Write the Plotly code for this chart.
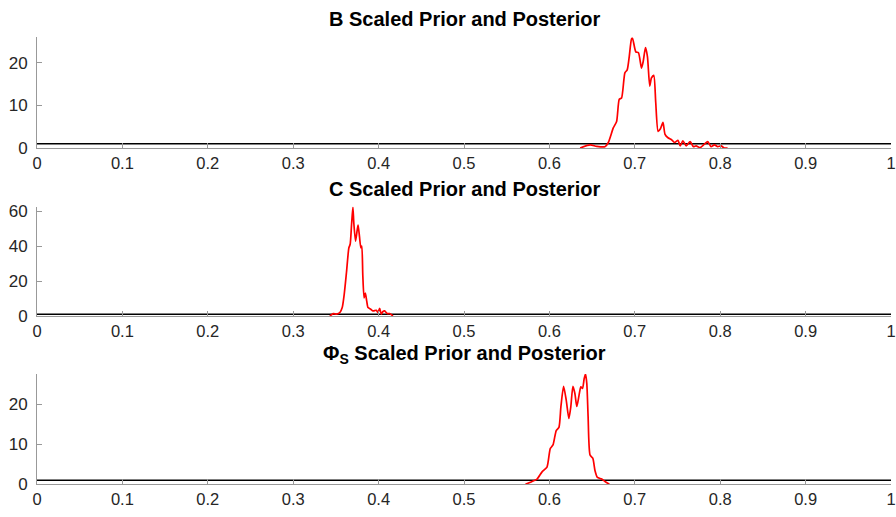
import plotly.graph_objects as go
from plotly.subplots import make_subplots

# ---- data ----
titles = ["B Scaled Prior and Posterior", "C Scaled Prior and Posterior",
          "Φ<sub>S</sub> Scaled Prior and Posterior"]

prior_x = [0.0, 1.0]
prior_y = [1.0, 1.0]

b_x = [0.636, 0.6476, 0.6554, 0.665, 0.669, 0.6748, 0.6787, 0.6818, 0.6845, 0.6884,
       0.6911, 0.6935, 0.6961, 0.6973, 0.7012, 0.7043, 0.7078, 0.7098, 0.7125, 0.7148,
       0.7175, 0.7195, 0.7222, 0.7245, 0.7273, 0.730, 0.733, 0.7354, 0.7389, 0.7427,
       0.7466, 0.7505, 0.7532, 0.7563, 0.7602, 0.7648, 0.7687, 0.7718, 0.7765, 0.7815,
       0.7854, 0.7893, 0.7932, 0.7971, 0.801, 0.8048, 0.8087]
b_y = [0.0, 0.75, 0.4, 0.3, 1.3, 4.7, 6.2, 11.4, 11.7, 17.6,
       18.3, 21.4, 25.5, 25.7, 22.5, 22.3, 18.7, 20.2, 23.5, 21.4,
       14.5, 16.4, 17.0, 10.7, 3.9, 4.5, 6.0, 3.2, 2.4, 2.0,
       1.3, 1.8, 0.5, 1.7, 0.5, 1.5, 0.3, 0.5, 0.1, 0.9,
       1.5, 0.3, 0.75, 0.3, 0.5, 0.0, 0.0]

c_x = [0.343, 0.3469, 0.3508, 0.3547, 0.3574, 0.3597, 0.3624, 0.3652, 0.3667, 0.3683,
       0.3699, 0.371, 0.373, 0.3749, 0.376, 0.3776, 0.3792, 0.3803, 0.3815, 0.383,
       0.3845, 0.3861, 0.3876, 0.3908, 0.3935, 0.3973, 0.3993, 0.4012, 0.4032, 0.4051,
       0.4071, 0.4101, 0.4129, 0.4168]
c_y = [0.0, 1.4, 1.1, 2.0, 4.8, 12.2, 25.0, 39.0, 41.0, 52.0,
       62.2, 53.0, 42.8, 49.0, 52.0, 45.5, 39.0, 40.0, 23.3, 10.3,
       13.1, 8.5, 4.8, 3.9, 2.9, 3.3, 2.0, 4.4, 1.1, 2.6,
       2.9, 1.4, 1.4, 0.0]

p_x = [0.572, 0.5797, 0.5856, 0.5914, 0.5972, 0.601, 0.6042, 0.608, 0.6112, 0.6135,
       0.6166, 0.6197, 0.6228, 0.6251, 0.6275, 0.6298, 0.6321, 0.6345, 0.6368, 0.6388,
       0.6407, 0.6423, 0.6438, 0.6453, 0.6476, 0.6508, 0.6535, 0.6562, 0.6612, 0.6651,
       0.6702]
p_y = [0.0, 0.7, 1.3, 3.1, 4.3, 8.9, 9.8, 13.4, 14.2, 19.4,
       24.4, 21.0, 16.4, 19.4, 24.4, 22.7, 19.4, 21.9, 24.3, 23.9,
       26.3, 27.5, 25.1, 17.0, 7.3, 6.5, 3.3, 1.7, 1.3, 0.7,
       0.0]

x_tickvals = [0, 0.1, 0.2, 0.3, 0.4, 0.5, 0.6, 0.7, 0.8, 0.9, 1]
x_ticktext = ["0", "0.1", "0.2", "0.3", "0.4", "0.5", "0.6", "0.7", "0.8", "0.9", "1"]
y_ranges = [[0, 25.9], [0, 62.5], [0, 27.5]]
y_dticks = [10, 20, 10]

posteriors = [(b_x, b_y), (c_x, c_y), (p_x, p_y)]

# ---- figure ----
W, H = 896, 517
# axis pixel extents (top, bottom) in px
y_px = [(33.3, 147.3), (207.7, 320.3), (380.0, 493.6)]

fig = make_subplots(rows=3, cols=1)
FONT = "Liberation Sans, Arial, Helvetica, sans-serif"
for i, (px, py) in enumerate(posteriors):
    r = i + 1
    fig.add_trace(go.Scatter(x=prior_x, y=prior_y, mode="lines",
                             line=dict(color="black", width=1.6),
                             showlegend=False, hoverinfo="skip"), row=r, col=1)
    fig.add_trace(go.Scatter(x=px, y=py, mode="lines",
                             line=dict(color="#ff0000", width=1.7, shape="spline", smoothing=0.6),
                             showlegend=False), row=r, col=1)
    top, bot = y_px[i]
    fig.update_yaxes(domain=[(H - bot) / H, (H - top) / H], range=y_ranges[i],
                     dtick=y_dticks[i], tick0=0, row=r, col=1)
    fig.update_xaxes(range=[0, 1], tickvals=x_tickvals, ticktext=x_ticktext,
                     row=r, col=1)
    fig.add_annotation(text="<b>" + titles[i] + "</b>", xref="paper", yref="paper",
                       x=0.5, y=(H - top + 5) / H,
                       xanchor="center", yanchor="bottom", showarrow=False,
                       font=dict(size=20, color="black", family=FONT))

fig.update_xaxes(showgrid=False, zeroline=False, showline=True, linecolor="#999999",
                 linewidth=1, ticks="inside", ticklen=5, tickcolor="#999999",
                 ticklabeloverflow="allow",
                 tickfont=dict(size=16.5, color="#262626", family=FONT))
fig.update_yaxes(showgrid=False, zeroline=False, showline=True, linecolor="#999999",
                 linewidth=1, ticks="inside", ticklen=5, tickcolor="#999999",
                 ticklabelstandoff=5,
                 tickfont=dict(size=17, color="#262626", family=FONT))

fig.update_layout(width=W, height=H, plot_bgcolor="white", paper_bgcolor="white",
                  margin=dict(l=37, r=0, t=0, b=0), showlegend=False)
fig.write_html("out.html")
